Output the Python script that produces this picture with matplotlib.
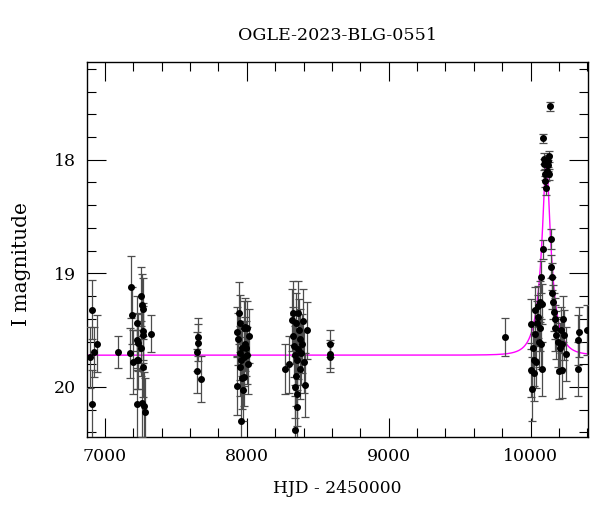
import numpy as np
import matplotlib.pyplot as plt
from matplotlib.ticker import MultipleLocator

# OGLE I-band photometry (HJD - 2450000, mag, err)
hjd = [6894, 6910, 6910, 6925, 6941,
       7094,
       7176, 7181, 7188, 7200, 7223, 7223, 7223, 7228, 7235, 7235, 7254, 7254,
       7258, 7258, 7270, 7270, 7270, 7270, 7276, 7282, 7322,
       7647, 7647, 7654, 7659, 7677,
       7933, 7933, 7940, 7947, 7950, 7957, 7952, 7955, 7961, 7965, 7969,
       7972, 7977, 7980, 7983, 7987, 7990, 7995, 8000, 8003, 8008, 8015,
       8270, 8300, 8317, 8322, 8325, 8333, 8336, 8336, 8340, 8343, 8346,
       8350, 8352, 8356, 8360, 8362, 8367, 8372, 8378, 8385, 8390, 8395,
       8400, 8411, 8423,
       8588, 8588, 8588,
       9823,
       10000, 10005, 10012, 10018, 10022, 10025, 10030, 10033, 10040,
       10045, 10050, 10055, 10060, 10065, 10070, 10075, 10080,
       10088, 10085, 10092, 10095, 10100, 10105, 10110, 10115, 10120,
       10125, 10129, 10134, 10131, 10075, 10078,
       10143, 10141, 10148, 10152, 10158, 10163, 10170, 10175, 10182,
       10190, 10198, 10205, 10212, 10220, 10225, 10231, 10236, 10250,
       10335, 10340, 10338, 10395]
mag = [19.74, 19.32, 20.15, 19.69, 19.62,
       19.69,
       19.70, 19.12, 19.37, 19.78, 19.59, 19.76, 20.15, 19.44, 19.61, 19.76,
       19.20, 19.66, 19.28, 20.14, 19.31, 19.51, 19.54, 19.82, 20.17, 20.22,
       19.53,
       19.69, 19.86, 19.56, 19.61, 19.93,
       19.52, 19.99, 19.58, 19.35, 19.70, 20.30, 19.44, 19.82, 19.76, 19.92,
       19.66, 20.03, 19.48, 19.91, 19.74, 19.47, 19.62, 19.66, 19.48, 19.72,
       19.80, 19.55,
       19.84, 19.80, 19.41, 19.35, 19.55, 19.64, 20.00, 20.38, 19.72, 19.90,
       19.44, 20.06, 19.76, 20.18, 19.67, 19.35, 19.50, 19.84, 19.58, 19.70,
       19.62, 19.42, 19.78, 19.98, 19.50,
       19.62, 19.71, 19.74,
       19.56,
       19.45, 19.85, 20.02, 19.66, 19.88, 19.76, 19.32, 19.53, 19.78,
       19.44, 19.38, 19.29, 19.60, 19.25, 19.48, 19.03, 19.27,
       17.81, 18.79, 17.99, 18.04, 18.13, 18.19, 18.25, 18.10, 18.01,
       18.05, 17.97, 17.53, 18.13, 19.62, 19.84,
       18.70, 18.94, 19.03, 19.17, 19.25, 19.34, 19.40, 19.48, 19.54,
       19.60, 19.86, 19.66, 19.50, 19.62, 19.85, 19.40, 19.54, 19.71,
       19.59, 19.52, 19.84, 19.50]
err = [0.27, 0.26, 0.30, 0.22, 0.25,
       0.14,
       0.22, 0.27, 0.25, 0.28, 0.24, 0.26, 0.30, 0.24, 0.25, 0.26, 0.26, 0.24,
       0.27, 0.30, 0.27, 0.25, 0.25, 0.27, 0.30, 0.30, 0.16,
       0.17, 0.19, 0.17, 0.16, 0.20,
       0.22, 0.26, 0.23, 0.27, 0.24, 0.30, 0.25, 0.26, 0.25, 0.27,
       0.24, 0.27, 0.24, 0.26, 0.25, 0.25, 0.24, 0.24, 0.24, 0.25,
       0.26, 0.24,
       0.22, 0.25, 0.27, 0.28, 0.25, 0.27, 0.27, 0.30, 0.26, 0.27,
       0.27, 0.28, 0.27, 0.28, 0.26, 0.28, 0.27, 0.27, 0.27, 0.28,
       0.26, 0.28, 0.27, 0.28, 0.25,
       0.12, 0.12, 0.13,
       0.17,
       0.22, 0.24, 0.28, 0.22, 0.24, 0.23, 0.20, 0.22, 0.23,
       0.20, 0.19, 0.18, 0.22, 0.18, 0.20, 0.14, 0.18,
       0.04, 0.08, 0.05, 0.05, 0.05, 0.05, 0.06, 0.05, 0.05,
       0.05, 0.05, 0.04, 0.05, 0.22, 0.24,
       0.09, 0.10, 0.12, 0.14, 0.15, 0.17, 0.18, 0.20, 0.21,
       0.22, 0.25, 0.22, 0.20, 0.22, 0.25, 0.20, 0.22, 0.24,
       0.22, 0.22, 0.24, 0.22]

# point-lens model parameters
t0 = 10111.0
tE = 84.0
u0 = 0.207
I0 = 19.72


def pspl(t):
    u = np.sqrt(u0**2 + ((t - t0) / tE)**2)
    A = (u**2 + 2) / (u * np.sqrt(u**2 + 4))
    return I0 - 2.5 * np.log10(A)


plt.rcParams['font.family'] = ['DejaVu Serif']

fig = plt.figure(figsize=(6, 5.12), dpi=100)
ax = fig.add_axes([0.145, 0.1465, 0.835, 0.7325])

tt = np.linspace(6870, 10410, 4000)
ax.plot(tt, pspl(tt), color='#ff00ff', lw=1.0, zorder=2)

ax.errorbar(hjd, mag, yerr=err, fmt='o', color='black', ms=4,
            ecolor='0.3', elinewidth=0.9, capsize=3, capthick=0.9, zorder=3)

ax.set_xlim(6873, 10405)
ax.set_ylim(20.44, 17.14)
ax.xaxis.set_major_locator(MultipleLocator(1000))
ax.xaxis.set_minor_locator(MultipleLocator(200))
ax.yaxis.set_major_locator(MultipleLocator(1))
ax.yaxis.set_minor_locator(MultipleLocator(0.2))
ax.tick_params(which='both', direction='in', top=True, right=True,
               labelsize=12.5, width=0.8)
ax.tick_params(which='major', length=14, pad=8)
ax.tick_params(which='minor', length=6.5)
for s in ax.spines.values():
    s.set_linewidth(1.0)

ax.set_title('OGLE-2023-BLG-0551', fontsize=12.6, pad=16)
ax.set_xlabel('HJD - 2450000', fontsize=12.3, labelpad=11)
ax.set_ylabel('I magnitude', fontsize=14.5)
ax.yaxis.set_label_coords(-0.112, 0.46)

fig.savefig('out.png', dpi=100)
